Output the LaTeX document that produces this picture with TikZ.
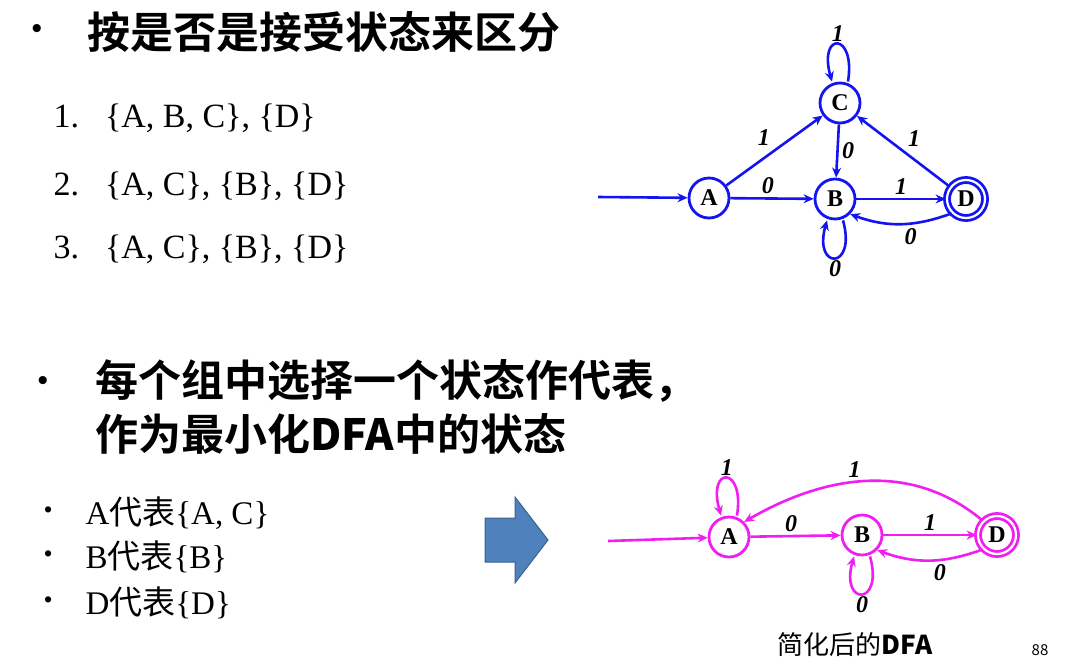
\documentclass[tikz,border=0pt]{standalone}
\usepackage{fontspec}
\setmainfont{Liberation Serif}
\newfontfamily\cjk{Noto Sans CJK SC}
\newfontfamily\cjkb{Noto Sans CJK SC Bold}
\usetikzlibrary{arrows.meta}
\definecolor{mblue}{RGB}{20,20,240}
\definecolor{mpink}{RGB}{240,30,240}
\definecolor{arrfill}{RGB}{79,129,189}
\begin{document}
\begin{tikzpicture}[x=1pt,y=-1pt,
  st/.style={circle,draw,line width=2.8pt,minimum size=40pt,inner sep=0pt,font=\fontsize{24}{26}\selectfont\bfseries},
  acc/.style={st,double,double distance=2.2pt,minimum size=38pt},
  ed/.style={line width=2.6pt,-{Stealth[length=10pt,width=9pt]}},
  lb/.style={font=\fontsize{24}{26}\selectfont\bfseries\itshape},
  head/.style={anchor=west,font=\fontsize{43}{48}\selectfont\cjkb},
  lst/.style={anchor=west,font=\fontsize{34}{40}\selectfont}]
\useasboundingbox (0,0) rectangle (1067,667);
% texts
\node[anchor=west,font=\fontsize{30}{36}\selectfont\bfseries] (b1) at (28,32) {•};
\node[head] (h1) at (84,32) {按是否是接受状态来区分};
\node[lst] (l1) at (50,118) {1.\hspace{26pt}\{A, B, C\}, \{D\}};
\node[lst] (l2) at (50,186) {2.\hspace{26pt}\{A, C\}, \{B\}, \{D\}};
\node[lst] (l3) at (50,249) {3.\hspace{26pt}\{A, C\}, \{B\}, \{D\}};
\node[anchor=west,font=\fontsize{30}{36}\selectfont\bfseries] (b2) at (34,383) {•};
\node[head] (h2) at (92,381) {每个组中选择一个状态作代表，};
\node[head] (h3) at (92,434) {作为最小化\textbf{DFA}中的状态};
\node[anchor=west,font=\fontsize{26}{30}\selectfont] (s1) at (40,513) {•};
\node[anchor=west,font=\fontsize{26}{30}\selectfont] (s2) at (40,557) {•};
\node[anchor=west,font=\fontsize{26}{30}\selectfont] (s3) at (40,603) {•};
\node[lst,font=\fontsize{33}{38}\selectfont] (t1) at (82,513) {A{\cjk 代表}\{A, C\}};
\node[lst,font=\fontsize{33}{38}\selectfont] (t2) at (82,557) {B{\cjk 代表}\{B\}};
\node[lst,font=\fontsize{33}{38}\selectfont] (t3) at (82,603) {D{\cjk 代表}\{D\}};
\filldraw[fill=arrfill,draw=arrfill!75!black,line width=1pt] (485,518) -- (515,518) -- (515,497) -- (548,540) -- (515,583) -- (515,562) -- (485,562) -- cycle;
\node[font=\fontsize{26}{30}\selectfont\cjk] (cap) at (855,645) {简化后的\textbf{DFA}};
\node[font=\fontsize{15}{17}\selectfont\cjk] (pg) at (1040,650) {88};
% top DFA
\begin{scope}[mblue,every node/.append style={text=black}]
\node[st] (A) at (709,198) {A};
\node[st] (B) at (835,199) {B};
\node[st] (C) at (840,103) {C};
\node[acc] (D) at (966,199) {D};
\coordinate (s) at (598,197);
\draw[ed] (s) -- (A);
\draw[ed] (A) -- node[lb,above,pos=0.45]{0} (B);
\draw[ed] (A) -- node[lb,above left]{1} (C);
\draw[ed] (C) -- node[lb,right]{0} (B);
\draw[ed] (B) -- node[lb,above]{1} (D);
\draw[ed] (D) -- node[lb,above right]{1} (C);
\draw[ed] (D.south west) to[out=200,in=-20] node[lb,below,pos=0.4]{0} (B.south east);
\draw[ed] ([xshift=8pt]C.north) .. controls +(8,-50) and +(-14,-50) .. node[lb,above,inner sep=1pt]{1} ([xshift=-8pt]C.north);
\draw[ed] ([xshift=8pt]B.south) .. controls +(14,50) and +(-14,50) .. node[lb,below,inner sep=1pt]{0} ([xshift=-8pt]B.south);
\end{scope}
% bottom DFA
\begin{scope}[mpink,every node/.append style={text=black}]
\node[st] (A2) at (729,537) {A};
\node[st] (B2) at (862,535) {B};
\node[acc] (D2) at (997,535) {D};
\coordinate (s2c) at (608,541);
\draw[ed] (s2c) -- (A2);
\draw[ed] (A2) -- node[lb,above,pos=0.45]{0} (B2);
\draw[ed] (B2) -- node[lb,above]{1} (D2);
\draw[ed] (D2.south west) to[out=200,in=-20] node[lb,below,pos=0.4]{0} (B2.south east);
\draw[ed] (D2.north west) to[out=140,in=30] node[lb,above,pos=0.55]{1} (A2.north east);
\draw[ed] ([xshift=8pt]A2.north) .. controls +(8,-50) and +(-14,-50) .. node[lb,above,inner sep=1pt]{1} ([xshift=-8pt]A2.north);
\draw[ed] ([xshift=8pt]B2.south) .. controls +(14,50) and +(-14,50) .. node[lb,below,inner sep=1pt]{0} ([xshift=-8pt]B2.south);
\end{scope}
\end{tikzpicture}
\end{document}
